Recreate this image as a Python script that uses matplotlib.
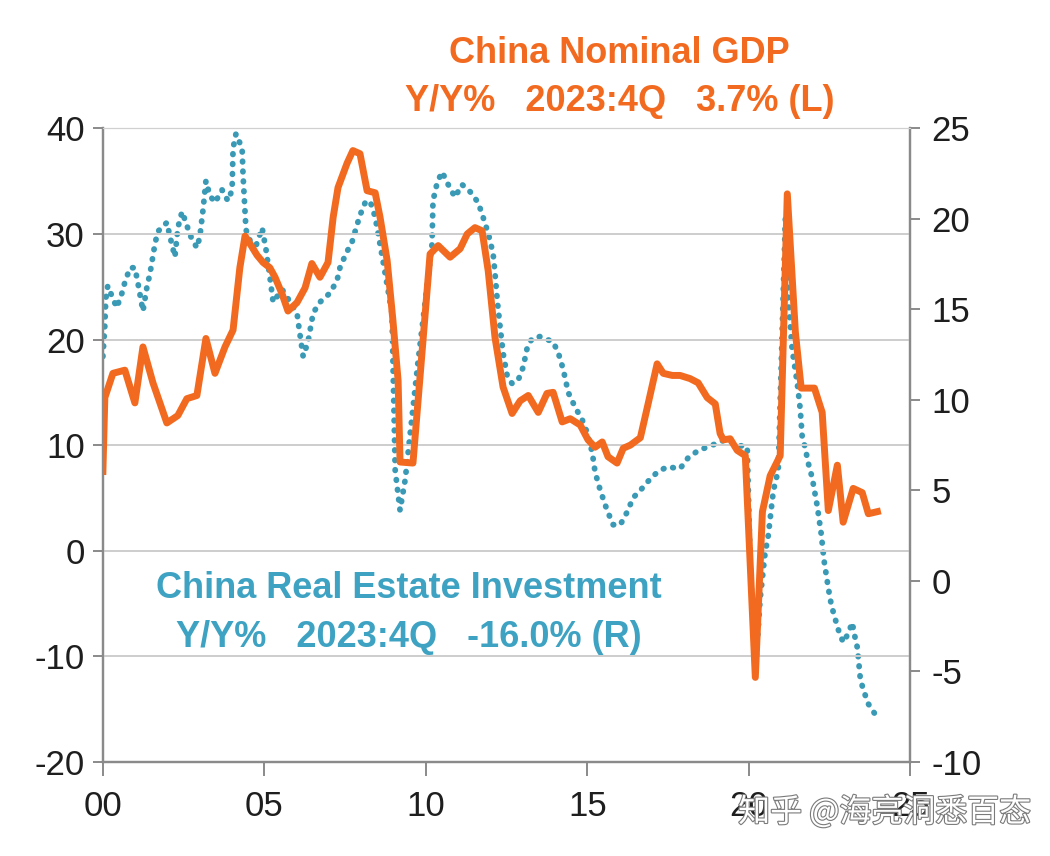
import matplotlib
matplotlib.use("Agg")
import matplotlib.pyplot as plt
import matplotlib.patheffects as pe

# China nominal GDP, Y/Y %, left axis (x = years since 2000)
gdp_years = [
    0.00, 0.06, 0.31, 0.68, 0.99, 1.24, 1.55, 1.98, 2.32, 2.60, 2.91, 3.19,
    3.47, 3.78, 4.03, 4.24, 4.40, 4.49, 4.77, 4.96, 5.17, 5.33, 5.55, 5.73,
    6.01, 6.26, 6.47, 6.72, 6.97, 7.13, 7.28, 7.56, 7.74, 7.96, 8.18, 8.43,
    8.58, 8.80, 8.98, 9.14, 9.20, 9.60, 10.13, 10.38, 10.75, 11.06, 11.28,
    11.52, 11.74, 11.93, 12.14, 12.39, 12.67, 12.92, 13.17, 13.48, 13.75,
    13.94, 14.22, 14.47, 14.78, 15.02, 15.24, 15.46, 15.64, 15.92, 16.11,
    16.33, 16.64, 16.88, 17.16, 17.35, 17.63, 17.87, 18.18, 18.43, 18.71,
    18.96, 19.11, 19.21, 19.42, 19.64, 19.89, 20.20, 20.42, 20.66, 20.97,
    21.19, 21.44, 21.62, 22.03, 22.27, 22.46, 22.74, 22.92, 23.23, 23.51,
    23.70, 23.98,
]
gdp_yoy = [
    7.5, 14.5, 16.8, 17.1, 14.0, 19.3, 15.9, 12.1, 12.8, 14.4, 14.7, 20.1,
    16.8, 19.3, 20.9, 26.8, 29.8, 29.4, 28.0, 27.3, 26.8, 25.9, 24.3, 22.7,
    23.5, 24.9, 27.2, 25.9, 27.3, 31.6, 34.4, 36.7, 37.9, 37.6, 34.1, 33.9,
    31.6, 27.5, 21.8, 16.1, 8.4, 8.3, 28.1, 28.9, 27.8, 28.6, 30.0,
    30.6, 30.3, 26.5, 20.2, 15.5, 13.0, 14.2, 14.7, 13.1, 14.9,
    15.0, 12.2, 12.5, 11.9, 10.5, 9.8, 10.3, 8.9, 8.3, 9.7,
    10.0, 10.7, 13.9, 17.7, 16.8, 16.6, 16.6, 16.3, 15.9, 14.5,
    13.9, 11.1, 10.5, 10.6, 9.5, 9.0, -12.0, 3.7, 7.1, 9.0,
    33.8, 20.7, 15.4, 15.4, 13.1, 3.8, 8.1, 2.7, 5.9, 5.5,
    3.5, 3.7,
]

# China real estate investment, Y/Y %, right axis
rei_years = [
    0.00, 0.06, 0.09, 0.15, 0.31, 0.43, 0.59, 0.68, 0.84, 0.99, 1.08, 1.24,
    1.36, 1.46, 1.61, 1.70, 1.98, 2.08, 2.23, 2.32, 2.45, 2.57, 2.70, 2.91,
    3.00, 3.10, 3.19, 3.31, 3.47, 3.69, 3.87, 4.00, 4.03, 4.12, 4.31, 4.34,
    4.43, 4.68, 4.93, 5.05, 5.17, 5.27, 5.55, 6.01, 6.07, 6.20, 6.35, 6.51,
    6.72, 7.03, 7.25, 7.34, 7.53, 7.71, 7.84, 7.96, 8.12, 8.27, 8.43, 8.52,
    8.67, 8.95, 9.05, 9.20, 9.36, 9.75, 10.19, 10.22, 10.35, 10.50, 10.69,
    10.90, 11.12, 11.37, 11.62, 11.77, 11.93, 12.08, 12.14, 12.21, 12.30,
    12.39, 12.52, 12.67, 12.86, 13.01, 13.14, 13.29, 13.54, 13.94, 14.10,
    14.25, 14.41, 14.62, 14.84, 14.99, 15.15, 15.24, 15.40, 15.61, 15.80,
    16.02, 16.23, 16.42, 16.64, 16.88, 17.16, 17.47, 17.87, 18.12, 18.43,
    18.87, 19.27, 19.64, 19.95, 20.04, 20.20, 20.35, 20.50, 20.60, 20.76,
    20.91, 21.13, 21.22, 21.34, 21.50, 21.59, 21.65, 21.75, 21.84, 21.96,
    22.12, 22.24, 22.33, 22.46, 22.55, 22.64, 22.77, 22.92, 23.08, 23.20,
    23.26, 23.36, 23.45, 23.54, 23.70, 23.92, 23.98,
]
rei_yoy = [
    12.4, 14.1, 15.6, 16.3, 15.6, 15.1, 15.9, 16.5, 17.3, 17.3, 16.5, 14.9,
    16.2, 17.0, 18.6, 19.3, 19.8, 19.0, 17.9, 19.5, 20.4, 19.8, 19.1, 18.4,
    19.0, 20.5, 22.1, 21.3, 20.9, 21.6, 21.0, 21.6, 23.9, 24.7, 23.9, 22.4,
    19.4, 18.2, 19.5, 18.3, 16.8, 15.4, 16.1, 14.8, 14.0, 12.4, 13.2, 14.8,
    15.4, 15.9, 16.6, 17.3, 18.1, 18.7, 19.5, 20.2, 20.9, 21.0, 20.1, 19.2,
    17.7, 14.8, 6.1, 3.9, 5.6, 12.0, 18.6, 21.0, 22.0, 22.6, 21.9,
    21.2, 21.9, 21.5, 20.9, 20.1, 19.2, 18.1, 17.0, 15.5, 14.0,
    12.6, 11.3, 10.9, 11.1, 11.8, 12.9, 13.4, 13.5, 13.2, 12.6,
    11.7, 10.4, 9.6, 8.9, 8.2, 7.1, 6.0, 5.0, 3.9, 3.1,
    3.1, 3.8, 4.6, 5.0, 5.5, 6.0, 6.3, 6.2, 6.8, 7.2,
    7.5, 7.8, 7.5, 7.4, 1.0, -5.0, -1.0, 1.5, 2.5, 5.0,
    6.1, 20.0, 15.5, 12.8, 10.9, 9.5, 8.0, 7.3, 6.5, 5.7,
    4.1, 2.6, 1.1, -0.4, -1.3, -1.9, -2.7, -3.4, -2.9, -2.3,
    -2.9, -3.7, -5.4, -6.0, -6.8, -7.4, -7.6,
]

x_ticks = [0, 5, 10, 15, 20, 25]
x_labels = ["00", "05", "10", "15", "20", "25"]
left_ticks = [-20, -10, 0, 10, 20, 30, 40]
right_ticks = [-10, -5, 0, 5, 10, 15, 20, 25]

ORANGE = "#f26a1f"
TEAL = "#3a9ab5"
TEAL_TEXT = "#3ea2c2"

plt.rcParams["font.family"] = ["Liberation Sans", "DejaVu Sans"]
plt.rcParams["axes.unicode_minus"] = False

fig = plt.figure(figsize=(10.5, 8.56), dpi=100)
ax = fig.add_axes([0.098, 0.110, 0.769, 0.740])
ax2 = ax.twinx()

# left axis sits on top so the GDP line covers the dotted one
ax.set_zorder(ax2.get_zorder() + 1)
ax.patch.set_visible(False)
ax2.patch.set_facecolor("#f2f2f2")

ax2.plot(rei_years, rei_yoy, color=TEAL, lw=4.2, linestyle=(0, (0.1, 1.6)),
         dash_capstyle="round", solid_capstyle="round")
ax.plot(gdp_years, gdp_yoy, color=ORANGE, lw=5.0, solid_joinstyle="round")

ax.set_xlim(0, 25)
ax.set_ylim(-20, 40)
ax2.set_ylim(-10, 25)
ax.set_xticks(x_ticks)
ax.set_xticklabels(x_labels)
ax.set_yticks(left_ticks)
ax2.set_yticks(right_ticks)

ax.grid(axis="y", color="#cdcdcd", lw=1.4)
ax.grid(axis="x", visible=False)

for a in (ax, ax2):
    for side in ("left", "right", "bottom"):
        a.spines[side].set_color("#8a8a8a")
        a.spines[side].set_linewidth(1.6)
    a.spines["top"].set_color("#d0d0d0")
    a.tick_params(colors="#8a8a8a", labelcolor="#1e1e1e", labelsize=25,
                  length=7, width=1.4)
ax.tick_params(axis="x", pad=10, length=10)
ax.tick_params(axis="y", pad=6)
ax2.tick_params(axis="y", pad=8)

fig.text(0.590, 0.938, "China Nominal GDP", color=ORANGE, fontsize=26,
         fontweight="bold", ha="center", va="center")
fig.text(0.590, 0.882, "Y/Y%   2023:4Q   3.7% (L)", color=ORANGE, fontsize=26,
         fontweight="bold", ha="center", va="center")
fig.text(0.389, 0.313, "China Real Estate Investment", color=TEAL_TEXT,
         fontsize=26, fontweight="bold", ha="center", va="center")
fig.text(0.389, 0.255, "Y/Y%   2023:4Q   -16.0% (R)", color=TEAL_TEXT,
         fontsize=26, fontweight="bold", ha="center", va="center")

# watermark, as in the source image it sits over the last tick labels
fig.text(0.703, 0.051, "知乎 @海亮洞悉百态", color="white", fontsize=23,
         family=["Noto Sans CJK SC", "DejaVu Sans"], ha="left", va="center",
         path_effects=[pe.withStroke(linewidth=1.6, foreground="#7a7a7a")])

fig.savefig("out.png", dpi=100, facecolor="white")
